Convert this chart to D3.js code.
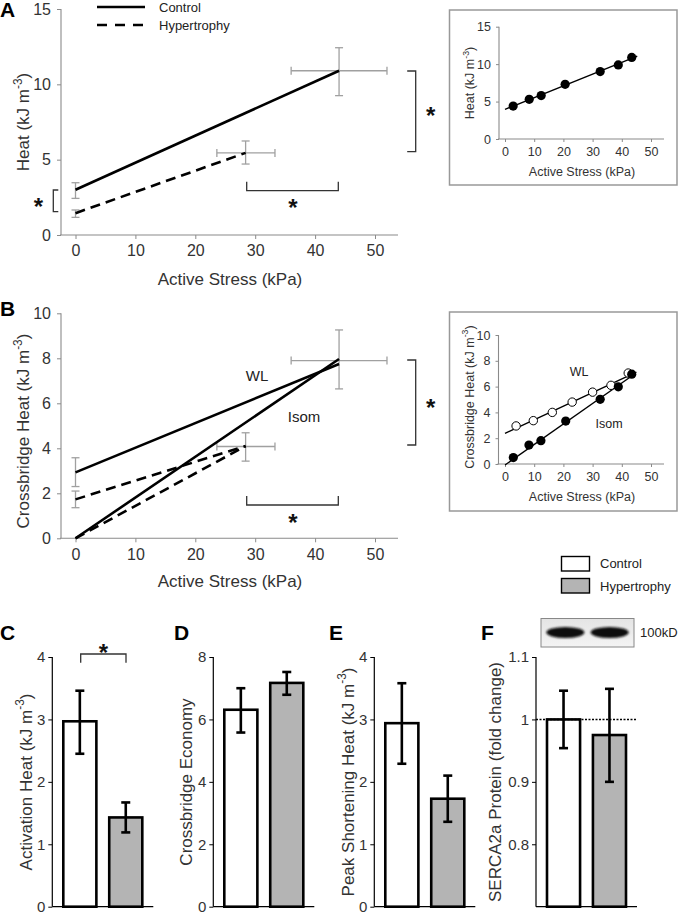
<!DOCTYPE html>
<html>
<head>
<meta charset="utf-8">
<script src="https://cdn.jsdelivr.net/npm/d3@7"></script>
<style>
  html, body { margin: 0; padding: 0; background: #fff; }
  svg { display: block; }
  text { font-family: "Liberation Sans", Arial, sans-serif; }
</style>
</head>
<body>
<svg id="chart" width="683" height="913"></svg>
<script>
// ---------------- DATA ----------------
const stressTicks = [0, 10, 20, 30, 40, 50];
const heatTicks = [0, 5, 10, 15];
const xbHeatTicks = [0, 2, 4, 6, 8, 10];
const seriesNames = ["Control", "Hypertrophy"];

// Panel A: heat vs active stress (fitted lines: start, end)
const aControlLine = [[0, 3.0], [44, 10.9]];
const aHypertrophyLine = [[0, 1.45], [28.4, 5.45]];
// error bars [x, y, xLow, xHigh, yLow, yHigh]
const aErrorBars = [
  [0, 3.0, null, null, 2.43, 3.47],
  [0, 1.45, null, null, 1.17, 1.66],
  [44, 10.9, 36.0, 52.0, 9.25, 12.43],
  [28.4, 5.45, 23.6, 33.3, 4.71, 6.24]
];
// Panel A inset: single preparation
const insetAStress = [2.8, 8.3, 12.4, 20.6, 32.6, 38.8, 43.4];
const insetAHeat = [4.4, 5.3, 5.8, 7.3, 9.0, 9.9, 10.9];
const insetAFit = [[0, 3.96], [45.3, 11.07]];

// Panel B: crossbridge heat
const bControlWL = [[0, 2.93], [44, 7.75]];
const bControlIsom = [[0, 0], [44, 7.97]];
const bHypertrophyWL = [[0, 1.73], [28.4, 4.1]];
const bHypertrophyIsom = [[0, 0], [28.4, 4.1]];
const bErrorBars = [
  [0, 2.93, null, null, 2.3, 3.58],
  [0, 1.73, null, null, 1.36, 2.1],
  [44, 7.9, 36.0, 52.0, 6.64, 9.26],
  [28.4, 4.08, 23.6, 33.3, 3.43, 4.69]
];
// Panel B inset
const insetBStressWL = [3.8, 9.7, 16.2, 23.0, 30.0, 36.3, 42.2];
const insetBHeatWL = [2.95, 3.36, 4.0, 4.8, 5.57, 6.1, 7.05];
const insetBStressIsom = [2.85, 8.2, 12.3, 20.8, 32.6, 38.8, 43.4];
const insetBHeatIsom = [0.5, 1.47, 1.81, 3.33, 5.01, 5.98, 6.96];
const insetBFitWL = [[0, 2.38], [45, 7.13]];
const insetBFitIsom = [[0, -0.08], [44.5, 7.0]];

// Bottom bar panels
const activationHeat = [2.97, 1.43];
const activationHeatErr = [[2.45, 3.46], [1.19, 1.67]];
const economy = [6.31, 7.17];
const economyErr = [[5.58, 7.0], [6.79, 7.52]];
const shorteningHeat = [2.94, 1.73];
const shorteningHeatErr = [[2.29, 3.58], [1.36, 2.1]];
const serca = [1.0, 0.975];
const sercaErr = [[0.954, 1.046], [0.9, 1.049]];
const ticksC = [0, 1, 2, 3, 4];
const ticksD = [0, 2, 4, 6, 8];
const ticksE = [0, 1, 2, 3, 4];
const ticksF = [0.8, 0.9, 1.0, 1.1];

// ---------------- DRAW ----------------
const svg = d3.select("#chart");
const AX_GREY = "#8a8a8a";
const TXT = "#333";
const ERR_GREY = "#a0a0a0";

function starAt(cx, cy) {
  svg.append("text").attr("x", cx).attr("y", cy + 13)
    .attr("text-anchor", "middle").attr("font-weight", "bold")
    .attr("font-size", 24).attr("fill", "#111").text("*");
}
function letter(t, x, y) {
  svg.append("text").attr("x", x).attr("y", y).attr("font-weight", "bold")
    .attr("font-size", 21).attr("fill", "#000").text(t);
}
function rotTitle(g, x, cy, main, sup, size) {
  const t = g.append("text").attr("transform", `translate(${x},${cy}) rotate(-90)`)
    .attr("text-anchor", "middle").attr("font-size", size).attr("fill", TXT);
  t.append("tspan").text(main);
  if (sup) {
    t.append("tspan").attr("font-size", size * 0.7).attr("dy", -size * 0.42).text(sup);
    t.append("tspan").attr("dy", size * 0.42).text(")");
  }
}

// scatter-type panel with axes
function scatterAxes(x, y, xTicks, yTicks, opts) {
  const g = svg.append("g");
  const [x0, x1] = x.range();
  const [yb, yt] = y.range();
  // y axis
  const ya = g.append("g").attr("transform", `translate(${opts.yAxisX},0)`)
    .call(d3.axisLeft(y).tickValues(yTicks).tickSize(opts.tick).tickSizeOuter(0).tickPadding(opts.pad));
  ya.select(".domain").remove();
  ya.selectAll("line").attr("stroke", AX_GREY);
  ya.selectAll("text").attr("font-size", opts.font).attr("fill", TXT).attr("font-family", "Liberation Sans, Arial, sans-serif");
  g.append("line").attr("x1", opts.yAxisX).attr("x2", opts.yAxisX)
    .attr("y1", y(yTicks[yTicks.length - 1])).attr("y2", yb).attr("stroke", AX_GREY).attr("stroke-width", 1.1);
  const xa = g.append("g").attr("transform", `translate(0,${yb})`)
    .call(d3.axisBottom(x).tickValues(xTicks).tickSize(opts.tick).tickSizeOuter(0).tickPadding(opts.pad));
  xa.select(".domain").remove();
  xa.selectAll("line").attr("stroke", AX_GREY);
  xa.selectAll("text").attr("font-size", opts.font).attr("fill", TXT).attr("font-family", "Liberation Sans, Arial, sans-serif");
  g.append("line").attr("x1", opts.yAxisX - 1).attr("x2", opts.xAxisEnd)
    .attr("y1", yb).attr("y2", yb).attr("stroke", AX_GREY).attr("stroke-width", 1.1);
  return g;
}

function errorBars(g, x, y, data, cap) {
  data.forEach(([mx, my, xl, xh, yl, yh]) => {
    const s = g.append("g").attr("stroke", ERR_GREY).attr("stroke-width", 1.3);
    s.append("line").attr("x1", x(mx)).attr("x2", x(mx)).attr("y1", y(yl)).attr("y2", y(yh));
    s.append("line").attr("x1", x(mx) - cap).attr("x2", x(mx) + cap).attr("y1", y(yl)).attr("y2", y(yl));
    s.append("line").attr("x1", x(mx) - cap).attr("x2", x(mx) + cap).attr("y1", y(yh)).attr("y2", y(yh));
    if (xl !== null) {
      s.append("line").attr("x1", x(xl)).attr("x2", x(xh)).attr("y1", y(my)).attr("y2", y(my));
      s.append("line").attr("x1", x(xl)).attr("x2", x(xl)).attr("y1", y(my) - cap).attr("y2", y(my) + cap);
      s.append("line").attr("x1", x(xh)).attr("x2", x(xh)).attr("y1", y(my) - cap).attr("y2", y(my) + cap);
    }
  });
}
function fitLine(g, x, y, pts, dashed, width) {
  g.append("path").attr("d", d3.line().x(d => x(d[0])).y(d => y(d[1]))(pts))
    .attr("fill", "none").attr("stroke", "#000").attr("stroke-width", width)
    .attr("stroke-dasharray", dashed ? "10,6" : null);
}
function bracketV(xv, ya, yb2, tickLen) {
  svg.append("path").attr("d", `M${xv - tickLen},${ya}H${xv}V${yb2}H${xv - tickLen}`)
    .attr("fill", "none").attr("stroke", "#333").attr("stroke-width", 1.3);
}
function bracketH(yv, xa, xb, tickLen) {
  svg.append("path").attr("d", `M${xa},${yv - tickLen}V${yv}H${xb}V${yv - tickLen}`)
    .attr("fill", "none").attr("stroke", "#333").attr("stroke-width", 1.3);
}

// ===== Panel A =====
const xA = d3.scaleLinear().domain([0, 50]).range([75.5, 375]);
const yA = d3.scaleLinear().domain([0, 15]).range([235, 9]);
const gA = scatterAxes(xA, yA, stressTicks, heatTicks, {yAxisX: 61, xAxisEnd: 398, tick: 4, pad: 6, font: 16});
errorBars(gA, xA, yA, aErrorBars, 4);
fitLine(gA, xA, yA, aControlLine, false, 2.6);
fitLine(gA, xA, yA, aHypertrophyLine, true, 2.6);
gA.append("text").attr("x", 230).attr("y", 285).attr("text-anchor", "middle")
  .attr("font-size", 17).attr("fill", TXT).text("Active Stress (kPa)");
rotTitle(gA, 29, 122, "Heat (kJ m", "-3", 17);
letter("A", 0, 17);
// legend
const legA = svg.append("g");
legA.append("line").attr("x1", 97).attr("x2", 145).attr("y1", 7).attr("y2", 7).attr("stroke", "#000").attr("stroke-width", 2.6);
legA.append("line").attr("x1", 97).attr("x2", 145).attr("y1", 25).attr("y2", 25).attr("stroke", "#000").attr("stroke-width", 2.6).attr("stroke-dasharray", "10,8");
legA.append("text").attr("x", 159).attr("y", 11.5).attr("font-family", "DejaVu Sans").attr("font-size", 13).attr("fill", "#222").text(seriesNames[0]);
legA.append("text").attr("x", 159).attr("y", 30).attr("font-family", "DejaVu Sans").attr("font-size", 13).attr("fill", "#222").text(seriesNames[1]);
// significance
bracketV(53.3, 190, 211.7, -5); // opens right
starAt(38.3, 202);
bracketV(415.7, 71, 151.7, 8.5);
starAt(430.7, 111);
bracketH(190.7, 246.7, 338.3, 9);
starAt(293, 203);

// Inset A
svg.append("rect").attr("x", 449.5).attr("y", 10).attr("width", 227.5).attr("height", 175)
  .attr("fill", "none").attr("stroke", "#999").attr("stroke-width", 1.5);
const xIA = d3.scaleLinear().domain([0, 50]).range([505, 651]);
const yIA = d3.scaleLinear().domain([0, 15]).range([139, 26.7]);
const gIA = scatterAxes(xIA, yIA, stressTicks, heatTicks, {yAxisX: 499, xAxisEnd: 664, tick: 3, pad: 5, font: 12.5});
fitLine(gIA, xIA, yIA, insetAFit, false, 1.4);
gIA.selectAll("circle.a").data(insetAStress).join("circle")
  .attr("cx", d => xIA(d)).attr("cy", (d, i) => yIA(insetAHeat[i])).attr("r", 4.6).attr("fill", "#000");
gIA.append("text").attr("x", 582).attr("y", 176).attr("text-anchor", "middle")
  .attr("font-size", 12.5).attr("fill", TXT).text("Active Stress (kPa)");
rotTitle(gIA, 474, 83, "Heat (kJ m", "-3", 12.5);

// ===== Panel B =====
const xB = d3.scaleLinear().domain([0, 50]).range([75.5, 375]);
const yB = d3.scaleLinear().domain([0, 10]).range([538.3, 313.3]);
const gB = scatterAxes(xB, yB, stressTicks, xbHeatTicks, {yAxisX: 61, xAxisEnd: 398, tick: 4, pad: 6, font: 16});
errorBars(gB, xB, yB, bErrorBars, 4);
fitLine(gB, xB, yB, bControlWL, false, 2.6);
fitLine(gB, xB, yB, bControlIsom, false, 2.6);
fitLine(gB, xB, yB, bHypertrophyWL, true, 2.6);
fitLine(gB, xB, yB, bHypertrophyIsom, true, 2.6);
gB.append("text").attr("x", 257).attr("y", 381).attr("text-anchor", "middle")
  .attr("font-family", "DejaVu Sans").attr("font-size", 15).attr("fill", "#222").text("WL");
gB.append("text").attr("x", 304).attr("y", 422).attr("text-anchor", "middle")
  .attr("font-family", "DejaVu Sans").attr("font-size", 15).attr("fill", "#222").text("Isom");
gB.append("text").attr("x", 230).attr("y", 587).attr("text-anchor", "middle")
  .attr("font-size", 17).attr("fill", TXT).text("Active Stress (kPa)");
rotTitle(gB, 29, 431, "Crossbridge Heat (kJ m", "-3", 17);
letter("B", 0, 316);
bracketV(415.7, 360, 445, 8.5);
starAt(430.7, 403);
bracketH(505, 246.7, 338.3, 9);
starAt(293, 518);

// Inset B
svg.append("rect").attr("x", 449.5).attr("y", 312).attr("width", 227.5).attr("height", 199)
  .attr("fill", "none").attr("stroke", "#999").attr("stroke-width", 1.5);
const xIB = d3.scaleLinear().domain([0, 50]).range([505, 651]);
const yIB = d3.scaleLinear().domain([0, 10]).range([464, 335]);
const gIB = scatterAxes(xIB, yIB, stressTicks, xbHeatTicks, {yAxisX: 498.5, xAxisEnd: 664, tick: 3, pad: 5, font: 12.5});
fitLine(gIB, xIB, yIB, insetBFitWL, false, 1.4);
fitLine(gIB, xIB, yIB, insetBFitIsom, false, 1.4);
gIB.selectAll("circle.wl").data(insetBStressWL).join("circle").attr("class", "wl")
  .attr("cx", d => xIB(d)).attr("cy", (d, i) => yIB(insetBHeatWL[i])).attr("r", 4.2)
  .attr("fill", "#fff").attr("stroke", "#000").attr("stroke-width", 1);
gIB.selectAll("circle.is").data(insetBStressIsom).join("circle").attr("class", "is")
  .attr("cx", d => xIB(d)).attr("cy", (d, i) => yIB(insetBHeatIsom[i])).attr("r", 4.6).attr("fill", "#000");
gIB.append("text").attr("x", 579).attr("y", 376).attr("text-anchor", "middle")
  .attr("font-family", "DejaVu Sans").attr("font-size", 12.5).attr("fill", "#222").text("WL");
gIB.append("text").attr("x", 609).attr("y", 428).attr("text-anchor", "middle")
  .attr("font-family", "DejaVu Sans").attr("font-size", 12.5).attr("fill", "#222").text("Isom");
gIB.append("text").attr("x", 582).attr("y", 501).attr("text-anchor", "middle")
  .attr("font-size", 12.5).attr("fill", TXT).text("Active Stress (kPa)");
rotTitle(gIB, 473.5, 397, "Crossbridge Heat (kJ m", "-3", 12.5);

// ===== Bottom bar panels =====
function barPanel(axisX, domain, ticks, tickFmt, values, errs, title, sup) {
  const g = svg.append("g");
  const y = d3.scaleLinear().domain(domain).range([906.7, 657]);
  const x = d3.scaleBand().domain(seriesNames).range([axisX + 11, axisX + 90]).paddingInner(0.28);
  const ya = g.append("g").attr("transform", `translate(${axisX},0)`)
    .call(d3.axisLeft(y).tickValues(ticks).tickFormat(tickFmt).tickSize(4).tickSizeOuter(0).tickPadding(3));
  ya.select(".domain").remove();
  ya.selectAll("line").attr("stroke", "#000");
  ya.selectAll("text").attr("font-size", 15).attr("fill", TXT).attr("font-family", "Liberation Sans, Arial, sans-serif");
  g.append("line").attr("x1", axisX).attr("x2", axisX).attr("y1", 657).attr("y2", 906.7).attr("stroke", "#000").attr("stroke-width", 1.2);
  g.append("line").attr("x1", axisX).attr("x2", axisX + 101).attr("y1", 906.7).attr("y2", 906.7).attr("stroke", "#000").attr("stroke-width", 1.2);
  g.selectAll("rect.bar").data(values).join("rect").attr("class", "bar")
    .attr("x", (d, i) => x(seriesNames[i])).attr("width", x.bandwidth())
    .attr("y", d => y(d)).attr("height", d => y(domain[0]) - y(d))
    .attr("fill", (d, i) => i === 0 ? "#fff" : "#b4b4b4")
    .attr("stroke", "#000").attr("stroke-width", 2.6);
  errs.forEach(([lo, hi], i) => {
    const cx = x(seriesNames[i]) + x.bandwidth() / 2;
    const e = g.append("g").attr("stroke", "#000").attr("stroke-width", 2.6);
    e.append("line").attr("x1", cx).attr("x2", cx).attr("y1", y(lo)).attr("y2", y(hi));
    e.append("line").attr("x1", cx - 4.5).attr("x2", cx + 4.5).attr("y1", y(lo)).attr("y2", y(lo));
    e.append("line").attr("x1", cx - 4.5).attr("x2", cx + 4.5).attr("y1", y(hi)).attr("y2", y(hi));
  });
  return {g, x, y};
}
const pC = barPanel(52.3, [0, 4], ticksC, d3.format("d"), activationHeat, activationHeatErr);
rotTitle(pC.g, 31.5, 782, "Activation Heat (kJ m", "-3", 17);
const pD = barPanel(213.3, [0, 8], ticksD, d3.format("d"), economy, economyErr);
rotTitle(pD.g, 192, 782, "Crossbridge Economy", null, 17);
const pE = barPanel(374.3, [0, 4], ticksE, d3.format("d"), shorteningHeat, shorteningHeatErr);
rotTitle(pE.g, 353.5, 782, "Peak Shortening Heat (kJ m", "-3", 17);
const pF = barPanel(536, [0.7, 1.1], ticksF, d => d === 1 ? "1" : d3.format(".1f")(d), serca, sercaErr);
rotTitle(pF.g, 501, 782, "SERCA2a Protein (fold change)", null, 17);
pF.g.append("line").attr("x1", 536).attr("x2", 636).attr("y1", pF.y(1.0)).attr("y2", pF.y(1.0))
  .attr("stroke", "#000").attr("stroke-width", 1.6).attr("stroke-dasharray", "2,1.5");

// C significance bracket
svg.append("path").attr("d", "M80.7,662.7V654H126V662.7").attr("fill", "none").attr("stroke", "#333").attr("stroke-width", 1.3);
starAt(103.3, 648);

letter("C", 0, 640);
letter("D", 174, 640);
letter("E", 329, 640);
letter("F", 481, 640);

// bottom legend
const legB = svg.append("g");
seriesNames.forEach((n, i) => {
  legB.append("rect").attr("x", 561.5).attr("y", 556.5 + i * 22).attr("width", 28).attr("height", 14.5)
    .attr("fill", i === 0 ? "#fff" : "#b4b4b4").attr("stroke", "#000").attr("stroke-width", 1.4);
  legB.append("text").attr("x", 600).attr("y", 568 + i * 22.5).attr("font-family", "DejaVu Sans")
    .attr("font-size", 13).attr("fill", "#222").text(n);
});

// western blot
const defs = svg.append("defs");
const grad = defs.append("linearGradient").attr("id", "blotbg").attr("x1", 0).attr("x2", 0).attr("y1", 0).attr("y2", 1);
grad.append("stop").attr("offset", 0).attr("stop-color", "#e4e4e4");
grad.append("stop").attr("offset", 1).attr("stop-color", "#f4f4f4");
const blur = defs.append("filter").attr("id", "bandblur");
blur.append("feGaussianBlur").attr("stdDeviation", 1.2);
svg.append("rect").attr("x", 541).attr("y", 618.5).attr("width", 93).attr("height", 28.5)
  .attr("fill", "url(#blotbg)").attr("stroke", "#888").attr("stroke-width", 1);
const blotX = d3.scaleBand().domain(seriesNames).range([541, 634]).paddingInner(0.1).paddingOuter(0.1);
seriesNames.forEach(n => {
  svg.append("ellipse").attr("cx", blotX(n) + blotX.bandwidth() / 2).attr("cy", 632.5)
    .attr("rx", 19).attr("ry", 5.5).attr("fill", "#111").attr("filter", "url(#bandblur)");
});
svg.append("text").attr("x", 640).attr("y", 637).attr("font-family", "DejaVu Sans")
  .attr("font-size", 13).attr("fill", "#222").text("100kD");
</script>
</body>
</html>
